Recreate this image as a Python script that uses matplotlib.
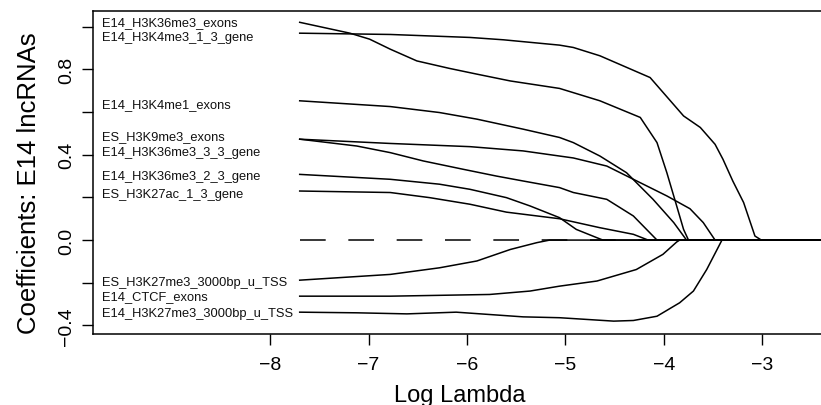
import matplotlib
matplotlib.use("Agg")
import matplotlib.pyplot as plt

plt.rcParams['font.family'] = ['Liberation Sans', 'DejaVu Sans']
plt.rcParams['axes.unicode_minus'] = True
plt.rcParams['lines.scale_dashes'] = False

# ---- data (log lambda, coefficient) ----
names = ["E14_H3K36me3_exons", "E14_H3K4me3_1_3_gene", "E14_H3K4me1_exons",
         "ES_H3K9me3_exons", "E14_H3K36me3_3_3_gene", "E14_H3K36me3_2_3_gene",
         "ES_H3K27ac_1_3_gene", "ES_H3K27me3_3000bp_u_TSS", "E14_CTCF_exons",
         "E14_H3K27me3_3000bp_u_TSS"]
label_y = [1.008, 0.939, 0.622, 0.473, 0.401, 0.285, 0.200, -0.209, -0.278, -0.354]

a_x = [-7.70, -7.19, -6.99, -6.78, -6.51, -6.18, -5.90, -5.56, -5.06, -4.65, -4.24, -4.07, -3.97, -3.87, -3.80, -3.75]
a_y = [1.021, 0.970, 0.942, 0.895, 0.840, 0.805, 0.778, 0.746, 0.711, 0.653, 0.575, 0.457, 0.316, 0.160, 0.050, 0.0]

b_x = [-7.70, -6.78, -5.97, -5.63, -5.06, -4.92, -4.65, -4.14, -3.80, -3.63, -3.48, -3.40, -3.30, -3.19, -3.075, -3.01]
b_y = [0.970, 0.964, 0.950, 0.939, 0.914, 0.903, 0.864, 0.762, 0.582, 0.528, 0.449, 0.379, 0.277, 0.176, 0.019, 0.0]

c_x = [-7.70, -6.78, -6.28, -5.90, -5.43, -5.06, -4.92, -4.65, -4.38, -4.11, -3.90, -3.77]
c_y = [0.653, 0.626, 0.598, 0.567, 0.520, 0.481, 0.457, 0.394, 0.316, 0.191, 0.082, 0.0]

d_x = [-7.70, -6.78, -5.97, -5.43, -5.06, -4.92, -4.58, -4.31, -3.97, -3.735, -3.60, -3.48]
d_y = [0.473, 0.453, 0.438, 0.418, 0.394, 0.385, 0.347, 0.285, 0.207, 0.147, 0.082, 0.0]

e_x = [-7.70, -7.12, -6.78, -6.445, -6.04, -5.70, -5.43, -5.06, -4.92, -4.58, -4.31, -4.07]
e_y = [0.473, 0.441, 0.410, 0.371, 0.332, 0.300, 0.277, 0.246, 0.223, 0.191, 0.113, 0.0]

f_x = [-7.70, -6.78, -6.28, -5.97, -5.60, -5.36, -5.06, -4.89, -4.68, -4.62]
f_y = [0.308, 0.285, 0.262, 0.238, 0.199, 0.160, 0.105, 0.050, 0.011, 0.0]

g_x = [-7.70, -6.78, -6.38, -5.97, -5.60, -5.06, -4.65, -4.31, -4.16]
g_y = [0.230, 0.223, 0.199, 0.168, 0.131, 0.100, 0.058, 0.027, 0.0]

h_x = [-7.70, -6.78, -6.28, -5.90, -5.56, -5.29, -5.16]
h_y = [-0.188, -0.161, -0.130, -0.098, -0.044, -0.012, 0.0]

i_x = [-7.70, -6.78, -5.77, -5.36, -5.06, -4.68, -4.28, -4.01, -3.87, -3.84]
i_y = [-0.263, -0.263, -0.255, -0.239, -0.216, -0.192, -0.138, -0.067, -0.009, 0.0]

j_x = [-7.70, -7.12, -6.61, -6.11, -5.77, -5.43, -5.06, -4.51, -4.31, -4.07, -3.84, -3.70, -3.565, -3.41]
j_y = [-0.338, -0.341, -0.346, -0.338, -0.349, -0.360, -0.364, -0.380, -0.377, -0.357, -0.294, -0.239, -0.138, 0.0]

zero_x = [-7.70, -2.35]
zero_y = [0.0, 0.0]

x_ticks = [-8, -7, -6, -5, -4, -3]
x_ticklabels = ["\u22128", "\u22127", "\u22126", "\u22125", "\u22124", "\u22123"]
y_ticks = [-0.4, -0.2, 0.0, 0.2, 0.4, 0.6, 0.8, 1.0]
y_ticklabels = ["\u22120.4", "", "0.0", "", "0.4", "", "0.8", ""]

XMIN, XMAX = -9.80, -2.353
YMIN, YMAX = -0.438, 1.074

fig = plt.figure(figsize=(8.21, 4.06), dpi=100)
ax = fig.add_axes([93/821, 71.5/406, 733/821, 322.5/406])

ax.plot(zero_x, zero_y, color='black', lw=1.1, dashes=(18.5, 16.3))
curves = [(a_x, a_y), (b_x, b_y), (c_x, c_y), (d_x, d_y), (e_x, e_y),
          (f_x, f_y), (g_x, g_y), (h_x, h_y), (i_x, i_y), (j_x, j_y)]
for cx, cy in curves:
    ax.plot(list(cx) + [XMAX + 0.1], list(cy) + [0.0], color='black', lw=1.1,
            solid_joinstyle='round')

for nm, ly in zip(names, label_y):
    ax.text(-9.713, ly, nm, fontsize=9.3, ha='left', va='baseline', color='#111111')

ax.set_xlim(XMIN, XMAX)
ax.set_ylim(YMIN, YMAX)
ax.set_xticks(x_ticks)
ax.set_xticklabels(x_ticklabels, fontsize=14)
ax.set_yticks(y_ticks)
ax.set_yticklabels(y_ticklabels, fontsize=14, rotation=90, va='center')
ax.tick_params(direction='out', length=7.8, width=1.0)
ax.tick_params(axis='x', pad=8.6)
ax.tick_params(axis='y', pad=5)
for s in ax.spines.values():
    s.set_linewidth(1.1)
ax.set_xlabel("Log Lambda", fontsize=17, labelpad=7.8)
ax.set_ylabel("Coefficients: E14 lncRNAs", fontsize=18.5)
ax.yaxis.set_label_coords(-0.071, 0.47)

fig.savefig("out.png", dpi=100, facecolor='white')
